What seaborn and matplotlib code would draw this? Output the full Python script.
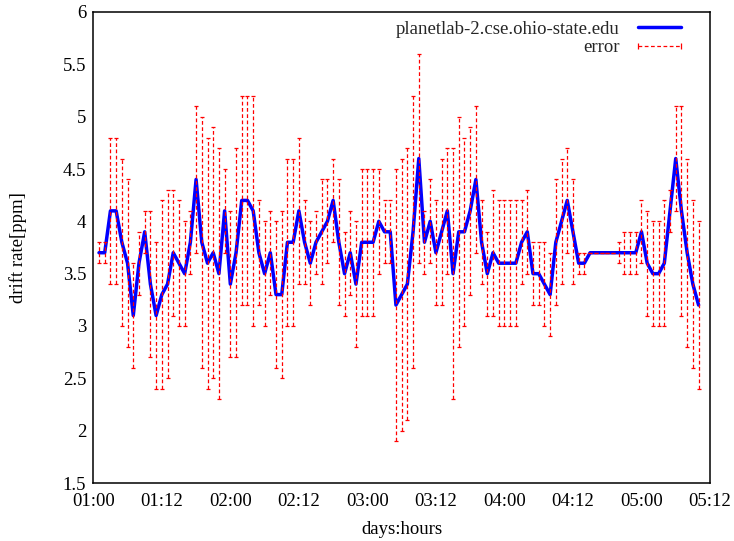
import numpy as np
import pandas as pd
import matplotlib
matplotlib.use("Agg")
import matplotlib.pyplot as plt
from matplotlib.lines import Line2D
from matplotlib.ticker import FuncFormatter, MultipleLocator
import seaborn as sns

# ---- data (hourly samples, x in hours counted from day 0 00:00) ----
hours = list(range(25, 131))  # 01:01 ... 05:10, one sample per hour

drift = [3.7, 3.7, 4.1, 4.1, 3.8, 3.6, 3.1, 3.6, 3.9, 3.4,
         3.1, 3.3, 3.4, 3.7, 3.6, 3.5, 3.8, 4.4, 3.8, 3.6,
         3.7, 3.5, 4.1, 3.4, 3.7, 4.2, 4.2, 4.1, 3.7, 3.5,
         3.7, 3.3, 3.3, 3.8, 3.8, 4.1, 3.8, 3.6, 3.8, 3.9,
         4.0, 4.2, 3.8, 3.5, 3.7, 3.4, 3.8, 3.8, 3.8, 4.0,
         3.9, 3.9, 3.2, 3.3, 3.4, 3.9, 4.6, 3.8, 4.0, 3.7,
         3.9, 4.1, 3.5, 3.9, 3.9, 4.1, 4.4, 3.8, 3.5, 3.7,
         3.6, 3.6, 3.6, 3.6, 3.8, 3.9, 3.5, 3.5, 3.4, 3.3,
         3.8, 4.0, 4.2, 3.9, 3.6, 3.6, 3.7, 3.7, 3.7, 3.7,
         3.7, 3.7, 3.7, 3.7, 3.7, 3.9, 3.6, 3.5, 3.5, 3.6,
         4.1, 4.6, 4.1, 3.7, 3.4, 3.2]

err_low = [3.6, 3.6, 3.4, 3.4, 3.0, 2.8, 2.6, 3.3, 3.7, 2.7,
           2.4, 2.4, 2.5, 3.1, 3.0, 3.0, 3.5, 3.7, 2.6, 2.4,
           2.5, 2.3, 3.7, 2.7, 2.7, 3.2, 3.2, 3.0, 3.2, 3.0,
           3.3, 2.6, 2.5, 3.0, 3.0, 3.4, 3.4, 3.2, 3.5, 3.4,
           3.6, 3.8, 3.2, 3.1, 3.3, 2.8, 3.1, 3.1, 3.1, 3.5,
           3.6, 3.6, 1.9, 2.0, 2.1, 2.6, 3.6, 3.5, 3.6, 3.2,
           3.2, 3.5, 2.3, 2.8, 3.0, 3.3, 3.7, 3.4, 3.1, 3.1,
           3.0, 3.0, 3.0, 3.0, 3.4, 3.5, 3.2, 3.2, 3.0, 2.9,
           3.2, 3.4, 3.7, 3.4, 3.5, 3.5, 3.7, 3.7, 3.7, 3.7,
           3.7, 3.6, 3.5, 3.5, 3.5, 3.6, 3.1, 3.0, 3.0, 3.0,
           3.9, 4.1, 3.1, 2.8, 2.6, 2.4]

err_high = [3.8, 3.8, 4.8, 4.8, 4.6, 4.4, 3.6, 3.9, 4.1, 4.1,
            3.8, 4.2, 4.3, 4.3, 4.2, 4.0, 4.1, 5.1, 5.0, 4.8,
            4.9, 4.7, 4.5, 4.1, 4.7, 5.2, 5.2, 5.2, 4.2, 4.0,
            4.1, 4.0, 4.1, 4.6, 4.6, 4.8, 4.2, 4.0, 4.1, 4.4,
            4.4, 4.6, 4.4, 3.9, 4.1, 4.0, 4.5, 4.5, 4.5, 4.5,
            4.2, 4.2, 4.5, 4.6, 4.7, 5.2, 5.6, 4.1, 4.4, 4.2,
            4.6, 4.7, 4.7, 5.0, 4.8, 4.9, 5.1, 4.2, 3.9, 4.3,
            4.2, 4.2, 4.2, 4.2, 4.2, 4.3, 3.8, 3.8, 3.8, 3.7,
            4.4, 4.6, 4.7, 4.4, 3.7, 3.7, 3.7, 3.7, 3.7, 3.7,
            3.7, 3.8, 3.9, 3.9, 3.9, 4.2, 4.1, 4.0, 4.0, 4.2,
            4.3, 5.1, 5.1, 4.6, 4.2, 4.0]

series_label = "planetlab-2.cse.ohio-state.edu"
error_label = "error"
x_label = "days:hours"
y_label = "drift rate[ppm]"

df = pd.DataFrame({"hours": hours, "drift": drift,
                   "low": err_low, "high": err_high})

# ---- styling ----
sns.set_theme(style="white")
plt.rcParams["font.family"] = ["Liberation Serif", "DejaVu Serif"]
plt.rcParams["font.size"] = 13.5

fig = plt.figure(figsize=(7.34, 5.41), dpi=100)
ax = fig.add_axes([93.3 / 734, 1 - 483 / 541, (710 - 93.3) / 734, (483 - 12) / 541])

sns.lineplot(data=df, x="hours", y="drift", ax=ax, color="#0000ff",
             linewidth=2.5, zorder=2, legend=False)

yerr = np.vstack([df["drift"] - df["low"], df["high"] - df["drift"]])
eb = ax.errorbar(df["hours"], df["drift"], yerr=yerr, fmt="none",
                 ecolor="#ff0000", elinewidth=0.9, capsize=1.6,
                 capthick=0.9, zorder=3)
for lc in eb[2]:
    lc.set_linestyle((0, (3, 2)))

ax.set_xlim(24, 132)
ax.set_ylim(1.5, 6)
ax.xaxis.set_major_locator(MultipleLocator(12))
ax.xaxis.set_minor_locator(MultipleLocator(3))
ax.xaxis.set_major_formatter(FuncFormatter(
    lambda v, p: f"{int(v // 24):02d}:{int(round(v % 24)):02d}"))
ax.yaxis.set_major_locator(MultipleLocator(0.5))
ax.yaxis.set_major_formatter(FuncFormatter(lambda v, p: f"{v:g}"))

ax.tick_params(axis="both", which="major", direction="in", length=6,
               width=0.8, color="black", labelsize=13.5, pad=7,
               top=False, right=False, labelcolor="black")
ax.tick_params(axis="x", which="minor", direction="in", length=3,
               width=0.8, color="black", top=False)
ax.tick_params(axis="y", which="major", pad=5)
for s in ax.spines.values():
    s.set_color("black")
    s.set_linewidth(1.1)

ax.set_xlabel(x_label, fontsize=13.5, labelpad=8, color="black")
ax.set_ylabel(y_label, fontsize=13.5, labelpad=26, color="black")

handles = [Line2D([], [], color="#0000ff", linewidth=2.5),
           Line2D([], [], color="#ff0000", linewidth=0.9,
                  linestyle=(0, (3, 2)), marker="|", markersize=5,
                  markeredgewidth=0.9)]
leg = ax.legend(handles, [series_label, error_label], loc="upper right",
                frameon=False, markerfirst=False, numpoints=2,
                handlelength=2.9, handletextpad=0.7, labelspacing=0.05,
                borderaxespad=0.0, fontsize=13.5,
                bbox_to_anchor=(0.975, 0.997))
for t in leg.get_texts():
    t.set_ha("right")

fig.savefig("out.png", dpi=100)
